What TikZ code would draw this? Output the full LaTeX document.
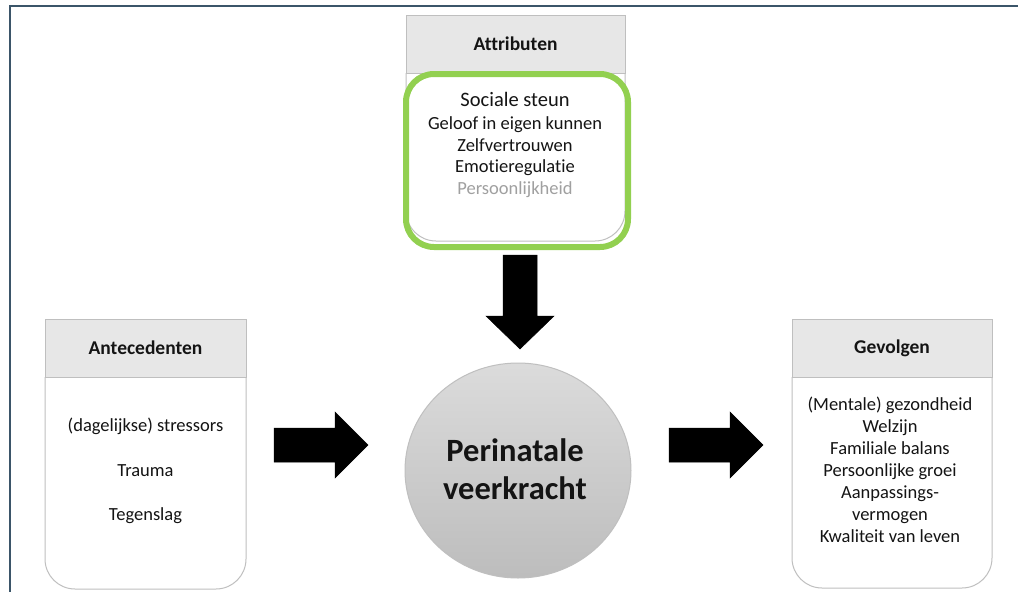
\documentclass[tikz,border=0pt]{standalone}
\usepackage{fontspec}
\setmainfont{Carlito}[Ligatures=NoCommon]
\usetikzlibrary{shapes.geometric}
\definecolor{frameblue}{HTML}{3B5569}
\definecolor{hdrfill}{HTML}{E7E7E7}
\definecolor{boxline}{HTML}{BFBFBF}
\definecolor{attrgreen}{HTML}{92D050}
\definecolor{txt}{HTML}{141414}
\definecolor{softgray}{HTML}{A0A0A0}
\begin{document}
\begin{tikzpicture}[x=1pt,y=-1pt,
  hdr/.style={draw=boxline,fill=hdrfill,line width=1pt,minimum height=58pt,inner sep=0pt,
    font=\fontsize{19.5}{22}\selectfont\bfseries,text=txt},
  bodyline/.style={draw=boxline,fill=white,line width=1pt,rounded corners=30pt},
  itm/.style={anchor=base,inner sep=0pt,font=\fontsize{18.5}{21}\selectfont,text=txt},
  blockarrow/.style={fill=black,draw=black,line width=0.5pt}]
\useasboundingbox (0,0) rectangle (1018,592);
\fill[white] (0,0) rectangle (1018,592);
% frame
\draw[frameblue,line width=2pt] (10,600) -- (10,6) -- (1030,6);
% Attributen box
\draw[bodyline] (406,73) -- (406,241) -- (625,241) -- (625,73);
\node[hdr,minimum width=219pt] (attrH) at (515.5,44) {Attributen};
\draw[attrgreen,line width=6pt,rounded corners=28pt] (406,74) rectangle (628,247);
\node[itm,font=\fontsize{20.5}{23}\selectfont] (a1) at (515,106) {Sociale steun};
\node[itm] (a2) at (515,129.5) {Geloof in eigen kunnen};
\node[itm] (a3) at (515,151) {Zelfvertrouwen};
\node[itm] (a4) at (515,172.5) {Emotieregulatie};
\node[itm,text=softgray] (a5) at (515,194) {Persoonlijkheid};
% Antecedenten box
\draw[bodyline] (45,377) -- (45,589) -- (246,589) -- (246,377);
\node[hdr,minimum width=201pt] (anteH) at (145.5,348) {Antecedenten};
\node[itm] (b1) at (145.5,431.5) {(dagelijkse) stressors};
\node[itm] (b2) at (145.5,476) {Trauma};
\node[itm] (b3) at (145.5,520) {Tegenslag};
% Gevolgen box
\draw[bodyline] (792,377) -- (792,588) -- (992,588) -- (992,377);
\node[hdr,minimum width=200pt] (gevH) at (892,348) {Gevolgen};
\node[itm] (c1) at (890,410) {(Mentale) gezondheid};
\node[itm] (c2) at (890,432.5) {Welzijn};
\node[itm] (c3) at (890,454.5) {Familiale balans};
\node[itm] (c4) at (890,476.5) {Persoonlijke groei};
\node[itm] (c5) at (890,498.5) {Aanpassings-};
\node[itm] (c6) at (890,520) {vermogen};
\node[itm] (c7) at (890,542) {Kwaliteit van leven};
% central ellipse
\node[ellipse,draw=boxline,line width=1pt,minimum width=226pt,minimum height=215pt,inner sep=0pt,
  top color=black!14,bottom color=black!26] (core) at (518,470.5) {};
\node[itm,font=\fontsize{32.5}{35}\selectfont\bfseries] (p1) at (515,461) {Perinatale};
\node[itm,font=\fontsize{32.5}{35}\selectfont\bfseries] (p2) at (515,499.5) {veerkracht};
% block arrows
\draw[blockarrow] (503,255) -- (537,255) -- (537,316) -- (554,316) -- (520,349) -- (486,316) -- (503,316) -- cycle;
\draw[blockarrow] (274,428) -- (335,428) -- (335,412) -- (368,445) -- (335,478) -- (335,462) -- (274,462) -- cycle;
\draw[blockarrow] (669,428) -- (730,428) -- (730,412) -- (763,445) -- (730,478) -- (730,462) -- (669,462) -- cycle;
\end{tikzpicture}
\end{document}
